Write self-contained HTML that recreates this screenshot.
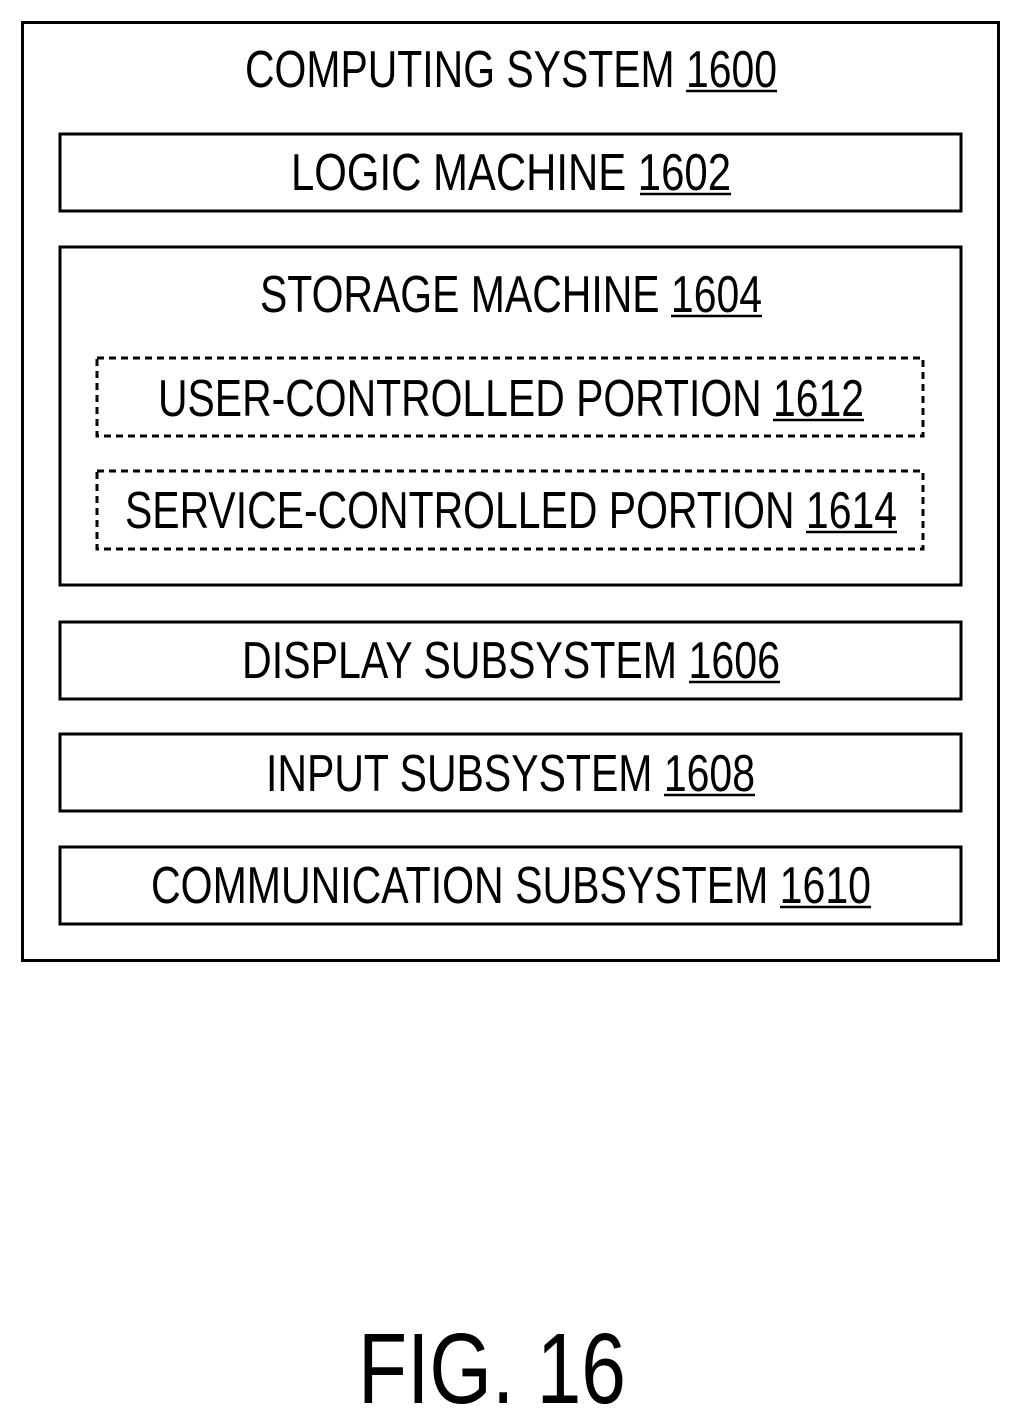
<!DOCTYPE html>
<html><head><meta charset="utf-8"><style>
html,body{margin:0;padding:0;background:#fff;}
svg{display:block;}
text{font-family:"Liberation Sans Narrow","Liberation Sans",sans-serif;fill:#000;}
</style></head><body>
<svg width="1021" height="1424" viewBox="0 0 1021 1424" xmlns="http://www.w3.org/2000/svg">
<g fill="none" stroke="#000" stroke-width="3">
<rect x="22.5" y="22.5" width="976" height="938"/>
<rect x="60" y="134" width="901" height="77"/>
<rect x="60" y="247" width="901" height="338"/>
<rect x="97" y="358" width="826" height="78" stroke-dasharray="7,5"/>
<rect x="97" y="471" width="826" height="78" stroke-dasharray="7,5"/>
<rect x="60" y="622" width="901" height="77"/>
<rect x="60" y="734" width="901" height="77"/>
<rect x="60" y="847" width="901" height="77"/>
</g>
<g font-size="52">
<text x="245" y="87" textLength="532" lengthAdjust="spacingAndGlyphs">COMPUTING SYSTEM 1600</text>
<text x="291" y="190" textLength="440" lengthAdjust="spacingAndGlyphs">LOGIC MACHINE  1602</text>
<text x="260" y="312" textLength="502" lengthAdjust="spacingAndGlyphs">STORAGE MACHINE 1604</text>
<text x="158" y="416" textLength="706" lengthAdjust="spacingAndGlyphs">USER-CONTROLLED PORTION 1612</text>
<text x="125" y="528" textLength="772" lengthAdjust="spacingAndGlyphs">SERVICE-CONTROLLED PORTION 1614</text>
<text x="242" y="678" textLength="538" lengthAdjust="spacingAndGlyphs">DISPLAY SUBSYSTEM 1606</text>
<text x="266" y="791" textLength="489" lengthAdjust="spacingAndGlyphs">INPUT SUBSYSTEM 1608</text>
<text x="151" y="903" textLength="720" lengthAdjust="spacingAndGlyphs">COMMUNICATION SUBSYSTEM 1610</text>
</g>
<text x="358" y="1403" font-size="100" textLength="268" lengthAdjust="spacingAndGlyphs">FIG. 16</text>
<g stroke="#000" stroke-width="2.5">
<line x1="686" y1="91" x2="777" y2="91"/>
<line x1="640" y1="194" x2="731" y2="194"/>
<line x1="671" y1="316" x2="762" y2="316"/>
<line x1="773" y1="420" x2="864" y2="420"/>
<line x1="806" y1="532" x2="897" y2="532"/>
<line x1="689" y1="682" x2="780" y2="682"/>
<line x1="664" y1="795" x2="755" y2="795"/>
<line x1="780" y1="907" x2="871" y2="907"/>
</g>
</svg>
</body></html>
